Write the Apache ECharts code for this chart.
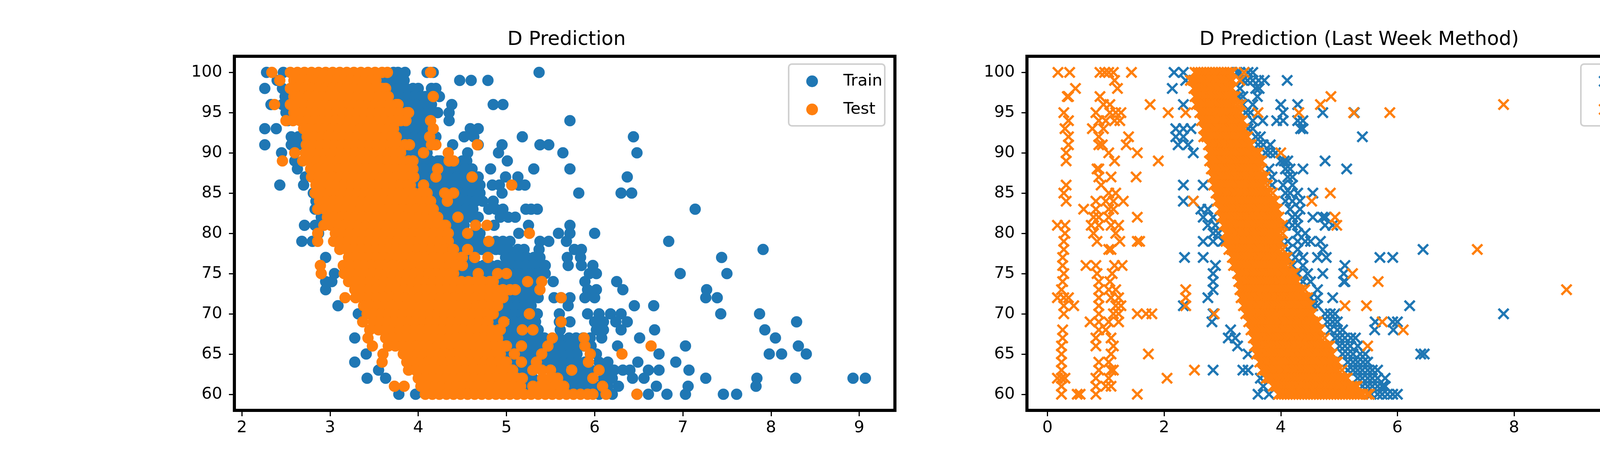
<!DOCTYPE html>
<html>
<head>
<meta charset="utf-8">
<title>D Prediction</title>
<script src="https://cdn.jsdelivr.net/npm/echarts@6/dist/echarts.min.js"></script>
<style>
  html, body { margin: 0; padding: 0; background: #fff; }
  #main { width: 4800px; height: 1200px; }
</style>
</head>
<body>
<div id="main"></div>
<script>
// each row: [y, x1, x2, ...]  (y is the integer score, x the predicted value)
var leftTrainRows = [
  [100, 2.28, 2.47, 3.72, 3.77, 3.85, 4.10, 4.17, 5.37],
  [99, 2.40, 3.58, 3.66, 3.72, 3.80, 3.84, 4.47, 4.60, 4.79],
  [98, 2.26, 2.46, 3.70, 3.78, 3.86, 3.94, 4.00, 4.15, 4.20],
  [97, 2.49, 3.72, 3.80, 3.88, 3.96, 4.04, 4.08, 4.24],
  [96, 2.33, 2.46, 3.82, 3.90, 3.98, 4.06, 4.15, 4.38, 4.85, 4.96],
  [95, 2.50, 3.94, 4.02, 4.10, 4.16, 4.22, 4.35],
  [94, 2.52, 3.86, 3.94, 4.02, 4.10, 4.35, 5.72],
  [93, 2.26, 2.39, 3.78, 3.86, 3.94, 4.02, 4.10, 4.14, 4.59, 4.68],
  [92, 2.56, 2.64, 3.80, 3.88, 3.96, 4.04, 4.12, 4.20, 4.52, 4.63, 5.18, 6.44],
  [91, 2.26, 2.56, 2.64, 3.94, 4.02, 4.10, 4.39, 4.68, 4.95, 5.38, 5.48],
  [90, 2.45, 3.78, 3.86, 3.94, 4.02, 4.10, 4.56, 4.91, 5.64, 6.48],
  [89, 2.60, 3.98, 4.06, 4.14, 4.22, 4.25, 4.50, 4.55, 5.01],
  [88, 2.63, 3.98, 4.06, 4.14, 4.30, 4.37, 4.45, 4.53, 4.61, 4.82, 5.31, 5.72],
  [87, 2.72, 4.00, 4.08, 4.16, 4.28, 4.36, 4.44, 4.52, 4.60, 4.68, 4.99, 5.13, 6.37],
  [86, 2.43, 2.70, 3.96, 4.14, 4.22, 4.30, 4.38, 4.46, 4.54, 4.62, 4.70, 4.84, 4.92, 5.14, 5.21],
  [85, 2.81, 4.14, 4.22, 4.46, 4.54, 4.62, 4.70, 4.95, 5.82, 6.30, 6.42],
  [84, 2.84, 4.20, 4.28, 4.41, 4.49, 4.57, 4.65, 4.73, 4.85],
  [83, 2.83, 4.22, 4.30, 4.38, 4.46, 4.54, 4.62, 4.80, 4.88, 4.96, 5.22, 5.28, 5.35, 7.14],
  [82, 2.90, 4.28, 4.36, 4.52, 4.60, 4.68, 4.93, 5.02, 5.10],
  [81, 2.71, 2.83, 4.36, 4.44, 4.52, 4.86, 5.25, 5.72],
  [80, 2.87, 4.40, 4.48, 4.62, 4.70, 5.14, 5.59, 5.72, 6.00],
  [79, 2.68, 2.80, 4.40, 4.48, 4.56, 4.64, 4.72, 4.88, 4.96, 5.04, 5.38, 5.48, 5.68, 6.84],
  [78, 4.48, 4.64, 4.72, 4.80, 4.88, 4.93, 5.02, 5.13, 5.20, 5.37, 5.77, 5.85, 7.91],
  [77, 2.95, 4.58, 4.99, 5.07, 5.15, 5.23, 5.31, 5.38, 5.69, 5.84, 7.44],
  [76, 4.58, 4.66, 4.74, 4.82, 4.90, 4.98, 5.06, 5.14, 5.22, 5.30, 5.38, 5.44, 5.70, 5.85, 5.98],
  [75, 3.05, 4.50, 4.58, 4.66, 4.74, 4.82, 4.90, 4.98, 5.06, 5.14, 5.22, 5.30, 5.38, 5.44, 5.94, 6.02, 6.97, 7.50],
  [74, 2.95, 3.02, 4.90, 4.98, 5.06, 5.14, 5.30, 5.36, 5.53, 5.89, 6.25],
  [73, 2.95, 5.18, 5.27, 5.36, 5.92, 6.02, 6.32, 7.27],
  [72, 5.04, 5.12, 5.20, 5.28, 5.36, 5.54, 5.62, 5.72, 5.89, 6.00, 7.26, 7.39],
  [71, 3.09, 4.96, 5.04, 5.12, 5.20, 5.28, 5.70, 6.45, 6.67],
  [70, 3.32, 4.93, 5.01, 5.09, 5.17, 5.25, 5.35, 5.60, 5.92, 6.05, 6.18, 6.30, 7.43, 7.87],
  [69, 4.85, 4.93, 5.09, 5.17, 5.25, 5.33, 5.60, 5.72, 6.00, 6.10, 6.24, 6.37, 8.29],
  [68, 4.96, 5.04, 5.12, 5.22, 5.36, 5.61, 6.02, 6.10, 6.30, 6.68, 7.93],
  [67, 3.28, 4.95, 5.03, 5.11, 5.19, 5.27, 5.35, 5.43, 5.60, 5.71, 5.79, 5.87, 5.95, 6.08, 6.51, 8.05],
  [66, 5.05, 5.13, 5.21, 5.29, 5.37, 5.55, 5.63, 5.71, 5.80, 5.88, 5.96, 6.26, 7.03, 8.31],
  [65, 3.41, 5.00, 5.08, 5.16, 5.24, 5.32, 5.48, 5.56, 5.64, 5.72, 5.80, 6.02, 6.73, 7.98, 8.12, 8.40],
  [64, 3.28, 5.05, 5.13, 5.21, 5.29, 5.41, 5.49, 5.57, 5.65, 5.73, 5.81, 5.89, 6.05, 6.15, 6.49, 6.92],
  [63, 3.55, 5.10, 5.18, 5.26, 5.55, 5.63, 5.80, 5.88, 5.96, 6.14, 6.22, 6.32, 6.40, 6.61, 6.73, 7.07],
  [62, 3.42, 3.63, 5.22, 5.30, 5.62, 5.70, 5.78, 5.86, 5.94, 6.10, 6.20, 6.43, 6.56, 7.26, 7.84, 8.28, 8.93, 9.07],
  [61, 5.20, 5.70, 5.78, 5.86, 5.94, 6.02, 6.15, 6.27, 6.70, 7.06, 7.83],
  [60, 3.78, 3.97, 6.05, 6.20, 6.48, 6.61, 6.82, 7.03, 7.46, 7.61]
];

var leftTestRows = [
  [100, 2.34, 2.55, 2.63, 2.71, 2.79, 2.87, 2.95, 3.03, 3.11, 3.19, 3.27, 3.35, 3.43, 3.51, 3.59, 3.65, 4.14],
  [99, 2.43, 2.59, 2.67, 2.75, 2.83, 2.91, 2.99, 3.07, 3.15, 3.23, 3.31, 3.39, 3.47, 3.52],
  [98, 2.55, 2.63, 2.71, 2.79, 2.87, 2.95, 3.03, 3.11, 3.19, 3.27, 3.35, 3.43, 3.51, 3.59, 3.63],
  [97, 2.59, 2.67, 2.75, 2.83, 2.91, 2.99, 3.07, 3.15, 3.23, 3.31, 3.39, 3.47, 3.55, 3.63, 3.66, 4.17],
  [96, 2.37, 2.55, 2.63, 2.71, 2.79, 2.87, 2.95, 3.03, 3.11, 3.19, 3.27, 3.35, 3.43, 3.51, 3.59, 3.67, 3.75, 3.77],
  [95, 2.59, 2.67, 2.75, 2.83, 2.91, 2.99, 3.07, 3.15, 3.23, 3.31, 3.39, 3.47, 3.55, 3.63, 3.71, 3.79, 3.87, 3.89],
  [94, 2.50, 2.58, 2.66, 2.74, 2.82, 2.90, 2.98, 3.06, 3.14, 3.22, 3.30, 3.38, 3.46, 3.54, 3.62, 3.70, 3.78, 3.80, 3.86, 4.14],
  [93, 2.70, 2.78, 2.86, 2.94, 3.02, 3.10, 3.18, 3.26, 3.34, 3.42, 3.50, 3.58, 3.66, 3.72, 4.17],
  [92, 2.74, 2.82, 2.90, 2.98, 3.06, 3.14, 3.22, 3.30, 3.38, 3.46, 3.54, 3.62, 3.70, 3.75, 4.13],
  [91, 2.73, 2.81, 2.89, 2.97, 3.05, 3.13, 3.21, 3.29, 3.37, 3.45, 3.53, 3.61, 3.69, 3.77, 3.85, 3.90, 4.15, 4.20, 4.67],
  [90, 2.60, 2.72, 2.80, 2.88, 2.96, 3.04, 3.12, 3.20, 3.28, 3.36, 3.44, 3.52, 3.60, 3.68, 3.72, 3.80, 4.06, 4.34],
  [89, 2.46, 2.69, 2.77, 2.85, 2.93, 3.01, 3.09, 3.17, 3.25, 3.33, 3.41, 3.49, 3.57, 3.65, 3.73, 3.81, 3.89, 3.94, 4.35, 4.40],
  [88, 2.78, 2.86, 2.94, 3.02, 3.10, 3.18, 3.26, 3.34, 3.42, 3.50, 3.58, 3.66, 3.74, 3.82, 3.90, 3.94, 4.22],
  [87, 2.79, 2.87, 2.95, 3.03, 3.11, 3.19, 3.27, 3.35, 3.43, 3.51, 3.59, 3.67, 3.75, 3.83, 3.91, 3.95, 4.20, 4.61],
  [86, 2.84, 2.92, 3.00, 3.08, 3.16, 3.24, 3.32, 3.40, 3.48, 3.56, 3.64, 3.72, 3.80, 3.88, 3.91, 4.06, 5.06],
  [85, 2.83, 2.91, 2.99, 3.07, 3.15, 3.23, 3.31, 3.39, 3.47, 3.55, 3.63, 3.71, 3.79, 3.87, 3.95, 4.03, 4.10, 4.30, 4.40],
  [84, 2.88, 2.96, 3.04, 3.12, 3.20, 3.28, 3.36, 3.44, 3.52, 3.60, 3.68, 3.76, 3.84, 3.92, 4.00, 4.08, 4.14, 4.33],
  [83, 2.86, 2.94, 3.02, 3.10, 3.18, 3.26, 3.34, 3.42, 3.50, 3.58, 3.66, 3.74, 3.82, 3.90, 3.98, 4.06, 4.14, 4.17],
  [82, 2.97, 3.05, 3.13, 3.21, 3.29, 3.37, 3.45, 3.53, 3.61, 3.69, 3.77, 3.85, 3.93, 4.01, 4.09, 4.17, 4.22, 4.45],
  [81, 2.93, 3.01, 3.09, 3.17, 3.25, 3.33, 3.41, 3.49, 3.57, 3.65, 3.73, 3.81, 3.89, 3.97, 4.05, 4.13, 4.21, 4.29, 4.31, 4.65, 4.78],
  [80, 2.86, 3.06, 3.14, 3.22, 3.30, 3.38, 3.46, 3.54, 3.62, 3.70, 3.78, 3.86, 3.94, 4.02, 4.10, 4.18, 4.26, 4.34, 4.56, 5.26],
  [79, 2.86, 3.04, 3.12, 3.20, 3.28, 3.36, 3.44, 3.52, 3.60, 3.68, 3.76, 3.84, 3.92, 4.00, 4.08, 4.16, 4.24, 4.32, 4.34, 4.80],
  [78, 3.11, 3.19, 3.27, 3.35, 3.43, 3.51, 3.59, 3.67, 3.75, 3.83, 3.91, 3.99, 4.07, 4.15, 4.23, 4.31, 4.39, 4.40, 4.56],
  [77, 3.21, 3.29, 3.37, 3.45, 3.53, 3.61, 3.69, 3.77, 3.85, 3.93, 4.01, 4.09, 4.17, 4.25, 4.33, 4.41, 4.49, 4.50, 4.64, 4.79],
  [76, 2.89, 3.15, 3.23, 3.31, 3.39, 3.47, 3.55, 3.63, 3.71, 3.79, 3.87, 3.95, 4.03, 4.11, 4.19, 4.27, 4.35, 4.43, 4.50],
  [75, 2.90, 3.16, 3.24, 3.32, 3.40, 3.48, 3.56, 3.64, 3.72, 3.80, 3.88, 3.96, 4.04, 4.12, 4.20, 4.28, 4.36, 4.40, 4.68, 4.90, 5.00],
  [74, 3.21, 3.29, 3.37, 3.45, 3.53, 3.61, 3.69, 3.77, 3.85, 3.93, 4.01, 4.09, 4.17, 4.25, 4.33, 4.41, 4.49, 4.57, 4.65, 4.73, 4.81, 4.85, 5.24, 5.40],
  [73, 3.28, 3.36, 3.44, 3.52, 3.60, 3.68, 3.76, 3.84, 3.92, 4.00, 4.08, 4.16, 4.24, 4.32, 4.40, 4.48, 4.56, 4.64, 4.72, 4.80, 4.88, 4.96, 5.04, 5.10, 5.38],
  [72, 3.17, 3.29, 3.37, 3.45, 3.53, 3.61, 3.69, 3.77, 3.85, 3.93, 4.01, 4.09, 4.17, 4.25, 4.33, 4.41, 4.49, 4.57, 4.65, 4.73, 4.81, 4.89, 4.96, 5.62],
  [71, 3.38, 3.46, 3.54, 3.62, 3.70, 3.78, 3.86, 3.94, 4.02, 4.10, 4.18, 4.26, 4.34, 4.42, 4.50, 4.58, 4.66, 4.74, 4.82, 4.90],
  [70, 3.42, 3.50, 3.58, 3.66, 3.74, 3.82, 3.90, 3.98, 4.06, 4.14, 4.22, 4.30, 4.38, 4.46, 4.54, 4.62, 4.70, 4.78, 4.85, 5.26],
  [69, 3.37, 3.49, 3.57, 3.65, 3.73, 3.81, 3.89, 3.97, 4.05, 4.13, 4.21, 4.29, 4.37, 4.45, 4.53, 4.61, 4.69, 4.77, 4.79, 4.97, 5.62],
  [68, 3.45, 3.55, 3.63, 3.71, 3.79, 3.87, 3.95, 4.03, 4.11, 4.19, 4.27, 4.35, 4.43, 4.51, 4.59, 4.67, 4.75, 4.83, 4.91, 4.93, 5.18, 5.30],
  [67, 3.43, 3.63, 3.71, 3.79, 3.87, 3.95, 4.03, 4.11, 4.19, 4.27, 4.35, 4.43, 4.51, 4.59, 4.67, 4.75, 4.83, 4.90, 5.52, 5.88],
  [66, 3.48, 3.66, 3.74, 3.82, 3.90, 3.98, 4.06, 4.14, 4.22, 4.30, 4.38, 4.46, 4.54, 4.62, 4.70, 4.78, 4.86, 4.94, 5.00, 5.17, 5.47, 5.89, 6.64],
  [65, 3.60, 3.83, 3.91, 3.99, 4.07, 4.15, 4.23, 4.31, 4.39, 4.47, 4.55, 4.63, 4.71, 4.79, 4.87, 4.93, 5.09, 5.40, 5.95, 6.31],
  [64, 3.59, 3.87, 3.95, 4.03, 4.11, 4.19, 4.27, 4.35, 4.43, 4.51, 4.59, 4.67, 4.75, 4.83, 4.91, 4.99, 5.00, 5.17, 5.34, 5.93],
  [63, 3.89, 3.97, 4.05, 4.13, 4.21, 4.29, 4.37, 4.45, 4.53, 4.61, 4.69, 4.77, 4.85, 4.93, 5.01, 5.07, 5.30, 5.40, 5.50, 5.74, 6.05],
  [62, 4.00, 4.08, 4.16, 4.24, 4.32, 4.40, 4.48, 4.56, 4.64, 4.72, 4.80, 4.88, 4.96, 5.04, 5.12, 5.18, 5.41, 5.50, 5.58, 5.98],
  [61, 3.73, 3.84, 4.03, 4.11, 4.19, 4.27, 4.35, 4.43, 4.51, 4.59, 4.67, 4.75, 4.83, 4.91, 4.99, 5.07, 5.16, 5.30, 5.38, 5.45, 5.55, 5.65, 6.09],
  [60, 4.08, 4.16, 4.24, 4.32, 4.40, 4.48, 4.56, 4.64, 4.72, 4.80, 4.88, 4.96, 5.04, 5.12, 5.20, 5.28, 5.36, 5.44, 5.52, 5.60, 5.68, 5.76, 5.84, 5.92, 5.98, 6.13, 6.48]
];

var rightTrainRows = [
  [100, 2.17, 2.33, 3.25, 3.30, 3.44, 3.52],
  [99, 2.37, 3.35, 3.43, 3.52, 3.62, 3.72, 4.11],
  [98, 2.14, 3.30, 3.57, 3.63],
  [97, 3.28, 3.35, 3.60],
  [96, 2.33, 3.35, 3.52, 4.00, 4.29],
  [95, 3.40, 3.48, 4.04, 4.72, 5.26],
  [94, 3.52, 3.69, 3.93, 4.04, 4.29, 4.38],
  [93, 2.20, 2.33, 2.46, 3.44, 3.52, 4.34, 4.38],
  [92, 2.20, 2.33, 3.57, 3.65, 5.40],
  [91, 2.24, 2.41, 3.61, 3.70, 3.82],
  [90, 2.50, 3.74, 3.82, 3.91],
  [89, 4.00, 4.06, 4.12, 4.76],
  [88, 3.80, 4.08, 4.16, 4.38, 5.13],
  [87, 3.85, 4.12, 4.20],
  [86, 2.33, 2.67, 3.85, 4.04, 4.20],
  [85, 4.08, 4.16, 4.29, 4.55],
  [84, 2.33, 2.50, 4.08, 4.20, 4.33],
  [83, 2.63, 2.75, 4.16, 4.33],
  [82, 2.67, 2.84, 4.20, 4.29, 4.55, 4.72, 4.77],
  [81, 2.75, 2.88, 4.08, 4.20, 4.29, 4.76, 4.89],
  [80, 2.84, 2.93, 4.29, 4.42],
  [79, 2.67, 2.84, 3.01, 4.00, 4.12, 4.29, 4.42, 4.51, 4.68],
  [78, 4.12, 4.29, 4.72, 6.44],
  [77, 2.35, 2.67, 4.12, 4.25, 4.38, 4.63, 4.78, 5.70, 5.92],
  [76, 2.88, 4.20, 4.38, 5.10],
  [75, 2.84, 4.29, 4.46, 4.72, 5.08],
  [74, 2.84, 4.38, 4.51, 5.08, 5.10],
  [73, 2.84, 4.63],
  [72, 2.75, 4.51, 4.63, 4.89],
  [71, 2.33, 4.55, 4.63, 6.21],
  [70, 2.84, 4.76, 4.85, 4.93, 7.82],
  [69, 2.82, 4.80, 4.89, 4.97, 5.62, 5.92, 6.00],
  [68, 3.14, 4.85, 4.97, 5.06, 5.61, 5.93],
  [67, 3.10, 3.22, 4.93, 5.01, 5.10, 5.20, 5.28],
  [66, 3.26, 5.01, 5.10, 5.19, 5.32],
  [65, 3.44, 5.06, 5.15, 5.24, 5.36, 5.45, 6.40, 6.46],
  [64, 4.72, 4.89, 5.15, 5.24, 5.32, 5.41, 5.49],
  [63, 2.84, 3.35, 3.44, 5.15, 5.24, 5.32, 5.40, 5.49, 5.57, 5.66],
  [62, 3.65, 5.32, 5.40, 5.49, 5.57, 5.66, 5.79],
  [61, 3.70, 5.40, 5.49, 5.57, 5.66, 5.74, 5.79],
  [60, 3.61, 3.80, 5.55, 5.66, 5.74, 5.83, 5.92, 6.00]
];

var rightTestRows = [
  [100, 0.18, 0.38, 0.90, 0.98, 1.05, 1.13, 1.44, 2.53, 2.58, 2.63, 2.68, 2.73, 2.78, 2.83, 2.88, 2.93, 2.98, 3.03, 3.08, 3.13, 3.17, 3.37],
  [99, 1.15, 2.45, 2.50, 2.55, 2.60, 2.65, 2.70, 2.75, 2.80, 2.85, 2.90, 2.95, 3.00, 3.05, 3.10, 3.15, 3.17, 3.30],
  [98, 0.48, 1.20, 2.51, 2.56, 2.61, 2.66, 2.71, 2.76, 2.81, 2.86, 2.91, 2.96, 3.01, 3.06, 3.11, 3.16],
  [97, 0.34, 0.36, 0.90, 2.53, 2.58, 2.63, 2.68, 2.73, 2.78, 2.83, 2.88, 2.93, 2.98, 3.03, 3.08, 3.13, 3.18, 3.22, 4.86],
  [96, 0.96, 1.07, 1.76, 2.55, 2.60, 2.65, 2.70, 2.75, 2.80, 2.85, 2.90, 2.95, 3.00, 3.05, 3.10, 3.15, 3.20, 3.26, 3.32, 4.68, 7.82],
  [95, 0.28, 0.83, 1.07, 1.17, 1.26, 2.07, 2.37, 2.61, 2.66, 2.71, 2.76, 2.81, 2.86, 2.91, 2.96, 3.01, 3.06, 3.11, 3.16, 3.21, 3.26, 3.30, 3.61, 4.31, 5.25, 5.87],
  [94, 0.36, 0.88, 1.00, 1.15, 1.24, 2.64, 2.69, 2.74, 2.79, 2.84, 2.89, 2.94, 2.99, 3.04, 3.09, 3.14, 3.19, 3.24, 3.29, 3.34],
  [93, 0.30, 0.77, 0.96, 2.68, 2.73, 2.78, 2.83, 2.88, 2.93, 2.98, 3.03, 3.08, 3.13, 3.18, 3.23, 3.28, 3.33, 3.37],
  [92, 0.36, 0.88, 1.39, 2.68, 2.73, 2.78, 2.83, 2.88, 2.93, 2.98, 3.03, 3.08, 3.13, 3.18, 3.23, 3.28, 3.33, 3.38, 3.43],
  [91, 0.36, 0.88, 0.94, 1.35, 2.76, 2.81, 2.86, 2.91, 2.96, 3.01, 3.06, 3.11, 3.16, 3.21, 3.26, 3.31, 3.36, 3.41, 3.46, 3.49],
  [90, 0.32, 1.05, 1.54, 2.78, 2.83, 2.88, 2.93, 2.98, 3.03, 3.08, 3.13, 3.18, 3.23, 3.28, 3.33, 3.38, 3.43, 3.48, 3.53, 3.58, 3.62, 4.00],
  [89, 0.32, 1.15, 1.90, 2.78, 2.83, 2.88, 2.93, 2.98, 3.03, 3.08, 3.13, 3.18, 3.23, 3.28, 3.33, 3.38, 3.43, 3.48, 3.53, 3.58, 3.63, 3.67, 10.46],
  [88, 0.85, 0.88, 2.81, 2.86, 2.91, 2.96, 3.01, 3.06, 3.11, 3.16, 3.21, 3.26, 3.31, 3.36, 3.41, 3.46, 3.51, 3.56, 3.61, 3.67],
  [87, 0.88, 1.09, 1.52, 2.83, 2.88, 2.93, 2.98, 3.03, 3.08, 3.13, 3.18, 3.23, 3.28, 3.33, 3.38, 3.43, 3.48, 3.53, 3.58, 3.63, 3.68, 3.73],
  [86, 0.32, 0.92, 2.85, 2.90, 2.95, 3.00, 3.05, 3.10, 3.15, 3.20, 3.25, 3.30, 3.35, 3.40, 3.45, 3.50, 3.55, 3.60, 3.65, 3.70, 3.77],
  [85, 0.28, 1.05, 1.17, 2.89, 2.94, 2.99, 3.04, 3.09, 3.14, 3.19, 3.24, 3.29, 3.34, 3.39, 3.44, 3.49, 3.54, 3.59, 3.64, 3.69, 3.74, 3.79, 3.86, 4.85],
  [84, 0.32, 0.83, 1.00, 1.13, 1.30, 2.50, 2.91, 2.96, 3.01, 3.06, 3.11, 3.16, 3.21, 3.26, 3.31, 3.36, 3.41, 3.46, 3.51, 3.56, 3.61, 3.66, 3.71, 3.76, 3.81, 3.86, 3.90, 4.53],
  [83, 0.62, 0.83, 1.05, 1.13, 2.96, 3.01, 3.06, 3.11, 3.16, 3.21, 3.26, 3.31, 3.36, 3.41, 3.46, 3.51, 3.56, 3.61, 3.66, 3.71, 3.76, 3.81, 3.86, 3.91, 3.94, 10.11],
  [82, 0.79, 0.88, 1.05, 1.54, 2.98, 3.03, 3.08, 3.13, 3.18, 3.23, 3.28, 3.33, 3.38, 3.43, 3.48, 3.53, 3.58, 3.63, 3.68, 3.73, 3.78, 3.83, 3.88, 3.93, 3.97, 4.93],
  [81, 0.17, 0.30, 0.75, 0.88, 1.09, 1.22, 3.02, 3.07, 3.12, 3.17, 3.22, 3.27, 3.32, 3.37, 3.42, 3.47, 3.52, 3.57, 3.62, 3.67, 3.72, 3.77, 3.82, 3.87, 3.92, 3.97, 4.03, 4.96],
  [80, 0.30, 0.79, 1.17, 3.06, 3.11, 3.16, 3.21, 3.26, 3.31, 3.36, 3.41, 3.46, 3.51, 3.56, 3.61, 3.66, 3.71, 3.76, 3.81, 3.86, 3.91, 3.96, 4.03],
  [79, 0.28, 0.85, 1.24, 1.54, 1.58, 3.06, 3.11, 3.16, 3.21, 3.26, 3.31, 3.36, 3.41, 3.46, 3.51, 3.56, 3.61, 3.66, 3.71, 3.76, 3.81, 3.86, 3.91, 3.96, 3.99],
  [78, 0.28, 1.05, 1.09, 3.11, 3.16, 3.21, 3.26, 3.31, 3.36, 3.41, 3.46, 3.51, 3.56, 3.61, 3.66, 3.71, 3.76, 3.81, 3.86, 3.91, 3.96, 4.03, 7.37],
  [77, 0.26, 3.17, 3.22, 3.27, 3.32, 3.37, 3.42, 3.47, 3.52, 3.57, 3.62, 3.67, 3.72, 3.77, 3.82, 3.87, 3.92, 3.97, 4.02, 4.07, 4.11],
  [76, 0.26, 0.66, 0.83, 1.15, 1.28, 3.19, 3.24, 3.29, 3.34, 3.39, 3.44, 3.49, 3.54, 3.59, 3.64, 3.69, 3.74, 3.79, 3.84, 3.89, 3.94, 3.99, 4.04, 4.09, 4.16],
  [75, 0.28, 0.85, 1.11, 3.26, 3.31, 3.36, 3.41, 3.46, 3.51, 3.56, 3.61, 3.66, 3.71, 3.76, 3.81, 3.86, 3.91, 3.96, 4.01, 4.06, 4.11, 4.16, 4.21, 4.24, 5.23],
  [74, 0.26, 0.88, 1.07, 3.28, 3.33, 3.38, 3.43, 3.48, 3.53, 3.58, 3.63, 3.68, 3.73, 3.78, 3.83, 3.88, 3.93, 3.98, 4.03, 4.08, 4.13, 4.18, 4.23, 4.28, 5.67],
  [73, 0.24, 0.88, 1.05, 1.17, 2.37, 3.30, 3.35, 3.40, 3.45, 3.50, 3.55, 3.60, 3.65, 3.70, 3.75, 3.80, 3.85, 3.90, 3.95, 4.00, 4.05, 4.10, 4.15, 4.20, 4.25, 4.30, 4.35, 4.41, 8.90],
  [72, 0.17, 0.28, 0.36, 0.88, 1.09, 1.22, 2.37, 3.32, 3.37, 3.42, 3.47, 3.52, 3.57, 3.62, 3.67, 3.72, 3.77, 3.82, 3.87, 3.92, 3.97, 4.02, 4.07, 4.12, 4.17, 4.22, 4.27, 4.32, 4.37, 4.42, 4.46],
  [71, 0.28, 0.45, 0.88, 1.17, 1.26, 2.37, 3.36, 3.41, 3.46, 3.51, 3.56, 3.61, 3.66, 3.71, 3.76, 3.81, 3.86, 3.91, 3.96, 4.01, 4.06, 4.11, 4.16, 4.21, 4.26, 4.31, 4.36, 4.41, 4.46, 4.50, 5.10, 5.47],
  [70, 0.28, 0.88, 1.13, 1.22, 1.54, 1.69, 1.79, 2.86, 3.40, 3.45, 3.50, 3.55, 3.60, 3.65, 3.70, 3.75, 3.80, 3.85, 3.90, 3.95, 4.00, 4.05, 4.10, 4.15, 4.20, 4.25, 4.30, 4.35, 4.40, 4.45, 4.50, 4.54],
  [69, 0.73, 0.88, 1.05, 1.22, 3.45, 3.50, 3.55, 3.60, 3.65, 3.70, 3.75, 3.80, 3.85, 3.90, 3.95, 4.00, 4.05, 4.10, 4.15, 4.20, 4.25, 4.30, 4.35, 4.40, 4.45, 4.50, 4.55, 4.60, 4.63, 5.74],
  [68, 0.26, 0.88, 1.00, 3.49, 3.54, 3.59, 3.64, 3.69, 3.74, 3.79, 3.84, 3.89, 3.94, 3.99, 4.04, 4.09, 4.14, 4.19, 4.24, 4.29, 4.34, 4.39, 4.44, 4.49, 4.54, 4.59, 4.64, 4.67, 6.10],
  [67, 0.26, 0.83, 1.09, 3.53, 3.58, 3.63, 3.68, 3.73, 3.78, 3.83, 3.88, 3.93, 3.98, 4.03, 4.08, 4.13, 4.18, 4.23, 4.28, 4.33, 4.38, 4.43, 4.48, 4.53, 4.58, 4.63, 4.68, 4.75],
  [66, 0.24, 0.83, 1.13, 3.55, 3.60, 3.65, 3.70, 3.75, 3.80, 3.85, 3.90, 3.95, 4.00, 4.05, 4.10, 4.15, 4.20, 4.25, 4.30, 4.35, 4.40, 4.45, 4.50, 4.55, 4.60, 4.65, 4.70, 4.75, 4.80, 4.84, 5.49],
  [65, 0.24, 1.09, 1.73, 3.58, 3.63, 3.68, 3.73, 3.78, 3.83, 3.88, 3.93, 3.98, 4.03, 4.08, 4.13, 4.18, 4.23, 4.28, 4.33, 4.38, 4.43, 4.48, 4.53, 4.58, 4.63, 4.68, 4.73, 4.78, 4.83, 4.88],
  [64, 0.24, 0.88, 1.05, 3.64, 3.69, 3.74, 3.79, 3.84, 3.89, 3.94, 3.99, 4.04, 4.09, 4.14, 4.19, 4.24, 4.29, 4.34, 4.39, 4.44, 4.49, 4.54, 4.59, 4.64, 4.69, 4.74, 4.79, 4.84, 4.89, 4.94, 4.97],
  [63, 0.24, 0.88, 1.09, 1.13, 2.52, 3.68, 3.73, 3.78, 3.83, 3.88, 3.93, 3.98, 4.03, 4.08, 4.13, 4.18, 4.23, 4.28, 4.33, 4.38, 4.43, 4.48, 4.53, 4.58, 4.63, 4.68, 4.73, 4.78, 4.83, 4.88, 4.93, 4.98, 5.05],
  [62, 0.17, 0.24, 0.30, 0.83, 1.05, 2.05, 3.75, 3.80, 3.85, 3.90, 3.95, 4.00, 4.05, 4.10, 4.15, 4.20, 4.25, 4.30, 4.35, 4.40, 4.45, 4.50, 4.55, 4.60, 4.65, 4.70, 4.75, 4.80, 4.85, 4.90, 4.95, 5.00, 5.05, 5.10, 5.14],
  [61, 0.24, 0.83, 1.00, 1.09, 3.87, 3.92, 3.97, 4.02, 4.07, 4.12, 4.17, 4.22, 4.27, 4.32, 4.37, 4.42, 4.47, 4.52, 4.57, 4.62, 4.67, 4.72, 4.77, 4.82, 4.87, 4.92, 4.97, 5.02, 5.07, 5.12, 5.17, 5.22, 5.27, 5.31],
  [60, 0.24, 0.51, 0.56, 0.83, 1.54, 3.96, 4.01, 4.06, 4.11, 4.16, 4.21, 4.26, 4.31, 4.36, 4.41, 4.46, 4.51, 4.56, 4.61, 4.66, 4.71, 4.76, 4.81, 4.86, 4.91, 4.96, 5.01, 5.06, 5.11, 5.16, 5.21, 5.26, 5.31, 5.36, 5.41, 5.48, 5.52]
];

var leftXTicks = [2, 3, 4, 5, 6, 7, 8, 9];
var rightXTicks = [0, 2, 4, 6, 8, 10];
var yTicks = [60, 65, 70, 75, 80, 85, 90, 95, 100];

var BLUE = '#1f77b4';
var ORANGE = '#ff7f0e';
var FONT = 'DejaVu Sans';
// matplotlib 'x' marker as a filled cross
var X_MARK = 'path://M0,14L14,0L50,36L86,0L100,14L64,50L100,86L86,100L50,64L14,100L0,86L36,50Z';

function toPoints(rows) {
    var pts = [];
    rows.forEach(function (r) {
        for (var i = 1; i < r.length; i++) {
            pts.push([r[i], r[0]]);
        }
    });
    return pts;
}

function xAxisFor(grid, min, max, ticks) {
    return {
        type: 'value', gridIndex: grid, min: min, max: max,
        axisLine: { show: false, onZero: false },
        splitLine: { show: false },
        axisTick: { show: true, length: 15, customValues: ticks, lineStyle: { color: '#000', width: 3 } },
        axisLabel: { customValues: ticks, color: '#000', fontSize: 41.7, fontFamily: FONT, margin: 24 }
    };
}

function yAxisFor(grid) {
    return {
        type: 'value', gridIndex: grid, min: 58, max: 102,
        axisLine: { show: false, onZero: false },
        splitLine: { show: false },
        axisTick: { show: true, length: 14, customValues: yTicks, lineStyle: { color: '#000', width: 3 } },
        axisLabel: { customValues: yTicks, color: '#000', fontSize: 41.7, fontFamily: FONT, margin: 31 }
    };
}

function legendFor(left, names, icon) {
    return {
        orient: 'vertical',
        left: left, top: 164,
        padding: [23, 6, 21, 45],
        itemWidth: 30, itemHeight: 30, itemGap: 30,
        selectedMode: false,
        backgroundColor: 'rgba(255,255,255,0.8)',
        borderColor: '#d0d0d0', borderWidth: 4, borderRadius: 8,
        textStyle: { color: '#000', fontSize: 41.7, fontFamily: FONT, lineHeight: 30, padding: [0, 0, 0, 60] },
        data: names.map(function (n) { return { name: n, icon: icon }; })
    };
}

var myChart = echarts.init(document.getElementById('main'), null, { renderer: 'canvas' });
var option = {
    backgroundColor: '#fff',
    animation: false,
    title: [
        { text: 'D Prediction', left: 1445.5, top: 72, textAlign: 'center',
          textStyle: { fontSize: 50, fontWeight: 'normal', color: '#000', fontFamily: FONT } },
        { text: 'D Prediction (Last Week Method)', left: 3474.5, top: 72, textAlign: 'center',
          textStyle: { fontSize: 50, fontWeight: 'normal', color: '#000', fontFamily: FONT } }
    ],
    legend: [
        legendFor(2019, ['Train', 'Test'], 'circle'),
        legendFor(4047, ['Train', 'test'], X_MARK)
    ],
    grid: [
        { left: 600, top: 144, width: 1691, height: 906, show: true, borderColor: '#000', borderWidth: 8, backgroundColor: '#fff', outerBoundsMode: 'none' },
        { left: 2629, top: 144, width: 1691, height: 906, show: true, borderColor: '#000', borderWidth: 8, backgroundColor: '#fff', outerBoundsMode: 'none' }
    ],
    xAxis: [
        xAxisFor(0, 1.915, 9.405, leftXTicks),
        xAxisFor(1, -0.352, 10.974, rightXTicks)
    ],
    yAxis: [yAxisFor(0), yAxisFor(1)],
    series: [
        { name: 'Train', type: 'scatter', xAxisIndex: 0, yAxisIndex: 0, symbol: 'circle', symbolSize: 29,
          itemStyle: { color: BLUE, opacity: 1 }, progressive: 0, data: toPoints(leftTrainRows) },
        { name: 'Test', type: 'scatter', xAxisIndex: 0, yAxisIndex: 0, symbol: 'circle', symbolSize: 29,
          itemStyle: { color: ORANGE, opacity: 1 }, progressive: 0, data: toPoints(leftTestRows) },
        { name: 'Train', type: 'scatter', xAxisIndex: 1, yAxisIndex: 1, symbol: X_MARK, symbolSize: 30,
          itemStyle: { color: BLUE, opacity: 1 }, progressive: 0, data: toPoints(rightTrainRows) },
        { name: 'test', type: 'scatter', xAxisIndex: 1, yAxisIndex: 1, symbol: X_MARK, symbolSize: 30,
          itemStyle: { color: ORANGE, opacity: 1 }, progressive: 0, data: toPoints(rightTestRows) }
    ]
};
myChart.setOption(option);
</script>
</body>
</html>
